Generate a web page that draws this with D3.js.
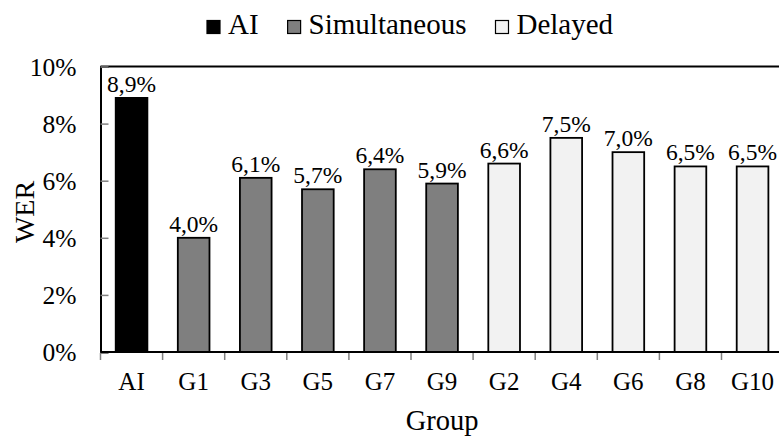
<!DOCTYPE html>
<html><head><meta charset="utf-8">
<script src="https://cdn.jsdelivr.net/npm/d3@7"></script>
<style>body{margin:0;background:#fff}svg{display:block}svg text{font-family:'Liberation Serif','Times New Roman',serif;fill:#000}</style>
</head><body><svg id="c" width="779" height="437" font-family="'Liberation Serif', 'Times New Roman', serif"></svg>
<script>
const categories = ["AI","G1","G3","G5","G7","G9","G2","G4","G6","G8","G10"];
const values = [8.9,4.0,6.1,5.7,6.4,5.9,6.6,7.5,7.0,6.5,6.5];
const groups = ["AI","Simultaneous","Simultaneous","Simultaneous","Simultaneous","Simultaneous","Delayed","Delayed","Delayed","Delayed","Delayed"];
const seriesNames = ["AI","Simultaneous","Delayed"];
const seriesColors = ["#000000","#7f7f7f","#f2f2f2"];
const yTicks = [0,2,4,6,8,10];
const yTitle = "WER", xTitle = "Group";

const svg = d3.select("#c");
const L = 100.5, R = 783.6, T = 66.5, B = 352;
const x = d3.scaleBand().domain(categories).range([L, R]).paddingInner(0.49).paddingOuter(0.245);
const xb = d3.scaleBand().domain(categories).range([L, R]);
const y = d3.scaleLinear().domain([0, 10]).range([B, T]);
const color = d3.scaleOrdinal().domain(seriesNames).range(seriesColors);
const fmt = v => v.toFixed(1).replace(".", ",") + "%";

svg.append("line").attr("x1", L).attr("x2", R).attr("y1", T).attr("y2", T).attr("stroke", "#000").attr("stroke-width", 2);

svg.append("g").selectAll("rect").data(categories).join("rect")
  .attr("x", (d) => x(d)).attr("width", x.bandwidth())
  .attr("y", (d, i) => y(values[i])).attr("height", (d, i) => B - y(values[i]))
  .attr("fill", (d, i) => color(groups[i])).attr("stroke", "#000").attr("stroke-width", 1.8);

svg.append("g").selectAll("text").data(categories).join("text")
  .attr("x", d => x(d) + x.bandwidth() / 2).attr("y", (d, i) => y(values[i]) - 6)
  .attr("text-anchor", "middle").attr("font-size", 23.5).text((d, i) => fmt(values[i]));

const ya = svg.append("g").attr("transform", `translate(${L},0)`)
  .call(d3.axisRight(y).tickValues(yTicks).tickSize(8).tickFormat(d => d + "%"));
ya.attr("font-family", null).attr("font-size", null);
ya.select(".domain").attr("stroke", "#000").attr("stroke-width", 2);
ya.selectAll(".tick line").attr("stroke", "#808080").attr("stroke-width", 1.5);
ya.selectAll(".tick text").attr("x", -24).attr("text-anchor", "end").attr("font-size", 25.5).attr("dy", "0.34em");

const xa = svg.append("g").attr("transform", `translate(0,${B})`);
xa.append("line").attr("x1", L).attr("x2", R).attr("stroke", "#000").attr("stroke-width", 2);
xa.selectAll("line.tk").data(categories).join("line").attr("class", "tk")
  .attr("x1", d => xb(d)).attr("x2", d => xb(d)).attr("y1", 1).attr("y2", 8)
  .attr("stroke", "#808080").attr("stroke-width", 1.5);
xa.selectAll("text").data(categories).join("text")
  .attr("x", d => xb(d) + xb.bandwidth() / 2).attr("y", 37.5)
  .attr("text-anchor", "middle").attr("font-size", 25).text(d => d);

svg.append("text").attr("transform", `translate(33.5,212) rotate(-90)`)
  .attr("text-anchor", "middle").attr("font-size", 28).text(yTitle);
svg.append("text").attr("x", (L + R) / 2).attr("y", 430)
  .attr("text-anchor", "middle").attr("font-size", 28.5).text(xTitle);

const lg = svg.append("g");
let lx = 207;
seriesNames.forEach((s, i) => {
  lg.append("rect").attr("x", lx).attr("y", 20.5).attr("width", 13).attr("height", 13)
    .attr("fill", seriesColors[i]).attr("stroke", "#000").attr("stroke-width", 1.2);
  const t = lg.append("text").attr("x", lx + 21).attr("y", 34).attr("font-size", 29).text(s);
  lx += 21 + t.node().getComputedTextLength() + 29;
});
</script></body></html>
